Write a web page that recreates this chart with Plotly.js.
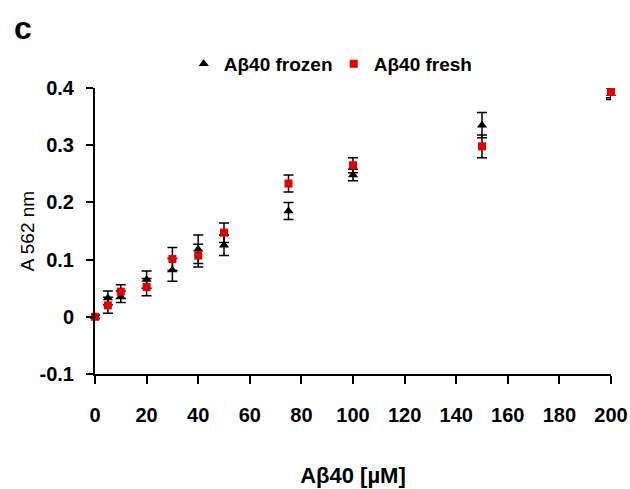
<!DOCTYPE html>
<html>
<head>
<meta charset="utf-8">
<script src="https://cdn.plot.ly/plotly-3.0.1.min.js"></script>
<style>html,body{margin:0;padding:0;background:#fff;}#chart{width:630px;height:489px;}</style>
</head>
<body>
<div id="chart"></div>
<script>
const concentration = [0, 5, 10, 20, 30, 40, 50, 75, 100, 150, 200];
const frozen = [0, 0.033, 0.035, 0.065, 0.082, 0.118, 0.125, 0.185, 0.248, 0.335, 0.39];
const frozenErr = [0.003, 0.012, 0.01, 0.015, 0.02, 0.025, 0.018, 0.015, 0.01, 0.022, 0.01];
const fresh = [0, 0.02, 0.044, 0.052, 0.101, 0.107, 0.147, 0.233, 0.265, 0.298, 0.393];
const freshErr = [0.003, 0.014, 0.012, 0.015, 0.02, 0.02, 0.017, 0.015, 0.013, 0.02, 0.01];
const xTicks = [0, 20, 40, 60, 80, 100, 120, 140, 160, 180, 200];
const yTicks = [-0.1, 0, 0.1, 0.2, 0.3, 0.4];
const yTickText = ['-0.1', '0', '0.1', '0.2', '0.3', '0.4'];

const FONT = 'Liberation Sans, Arial, sans-serif';

const traces = [
  {
    x: concentration, y: frozen, name: 'Aβ40 frozen', type: 'scatter', mode: 'markers',
    marker: {symbol: 'triangle-up', size: 9, color: '#000000'},
    error_y: {type: 'data', array: frozenErr, visible: true, color: '#000000', thickness: 1.5, width: 5},
    cliponaxis: false
  },
  {
    x: concentration, y: fresh, name: 'Aβ40 fresh', type: 'scatter', mode: 'markers',
    marker: {symbol: 'square', size: 8, color: '#e00000'},
    error_y: {type: 'data', array: freshErr, visible: true, color: '#000000', thickness: 1.5, width: 5},
    cliponaxis: false
  }
];

const layout = {
  width: 630, height: 489,
  margin: {l: 95, r: 19, t: 88, b: 115},
  paper_bgcolor: '#ffffff', plot_bgcolor: '#ffffff',
  font: {family: FONT, color: '#000000', size: 20},
  showlegend: true,
  legend: {
    orientation: 'h', x: 0.172, y: 1.084, xanchor: 'left', yanchor: 'middle',
    font: {family: FONT, size: 19, weight: 'bold', color: '#000'},
    itemwidth: 30, entrywidth: 105, bgcolor: 'rgba(0,0,0,0)', traceorder: 'normal'
  },
  xaxis: {
    range: [0, 200], tickvals: xTicks, ticktext: xTicks.map(String),
    showline: true, linecolor: '#000', linewidth: 2, mirror: false,
    ticks: 'outside', ticklen: 8, tickwidth: 2, tickcolor: '#000',
    showgrid: false, zeroline: false,
    tickfont: {family: FONT, size: 20, weight: 'bold'},
    ticklabelstandoff: 14, ticklabeloverflow: 'allow',
    title: {text: 'Aβ40 [µM]', font: {family: FONT, size: 22, weight: 'bold'}, standoff: 43}
  },
  yaxis: {
    range: [-0.1, 0.4], tickvals: yTicks, ticktext: yTickText,
    showline: true, linecolor: '#000', linewidth: 2,
    ticks: 'outside', ticklen: 7, tickwidth: 2, tickcolor: '#000',
    showgrid: false, zeroline: false,
    tickfont: {family: FONT, size: 20, weight: 'bold'},
    ticklabelstandoff: 8, ticklabeloverflow: 'allow',
    title: {text: 'A 562 nm', font: {family: FONT, size: 19}, standoff: 0}
  },
  annotations: [
    {text: 'c', xref: 'paper', yref: 'paper', x: -0.14, y: 1.21, xanchor: 'center', yanchor: 'middle',
     showarrow: false, font: {family: FONT, size: 32, weight: 'bold'}}
  ]
};

Plotly.newPlot('chart', traces, layout, {displayModeBar: false, staticPlot: true});
</script>
</body>
</html>
